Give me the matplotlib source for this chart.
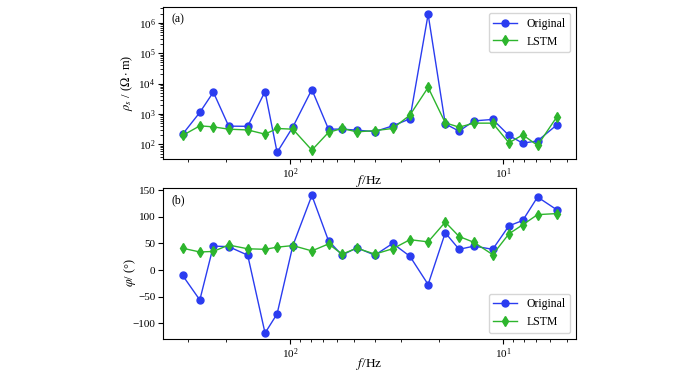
import matplotlib
matplotlib.use('Agg')
import matplotlib.pyplot as plt

plt.rcParams['font.family'] = ['Liberation Serif', 'DejaVu Serif']
plt.rcParams['mathtext.fontset'] = 'stix'
plt.rcParams['font.size'] = 8.5

# frequencies (Hz)
freq = [319, 265, 229, 194, 158, 131, 115, 97, 79, 66, 57, 48.6,
        40, 33, 27.4, 22.5, 18.7, 16.1, 13.7, 11.2, 9.4, 8.1, 6.9, 5.6]

# apparent resistivity (Ohm m)
rho_orig = [218, 1130, 5250, 400, 395, 5500, 55, 375, 6400, 318, 320, 295,
            265, 409, 695, 1.9e6, 476, 274, 597, 664, 198, 110, 131, 441]
rho_lstm = [198, 409, 379, 318, 300, 218, 335, 318, 65, 250, 335, 260,
            285, 335, 920, 7500, 514, 371, 502, 502, 113, 207, 93, 809]

# phase (degrees)
phi_orig = [-10, -56, 45, 44, 28, -118, -82, 46, 140, 55, 28, 42,
            28, 50, 26, -27, 70, 39, 45, 39, 83, 93, 137, 113]
phi_lstm = [41, 34, 35, 47, 40, 39, 43, 46, 36, 49, 30, 41,
            30, 40, 57, 53, 90, 63, 52, 29, 68, 85, 104, 106]

blue = '#2a3cf0'
green = '#2db52d'

fig = plt.figure(figsize=(7, 3.7), dpi=100)
ax1 = fig.add_axes([0.233, 0.570, 0.590, 0.411])
ax2 = fig.add_axes([0.233, 0.084, 0.590, 0.408])

for ax in (ax1, ax2):
    ax.tick_params(labelsize=8, length=3.5, pad=2)
    ax.tick_params(which='minor', length=2)

# (a) resistivity
ax1.plot(freq, rho_orig, '-o', color=blue, lw=1, ms=5, label='Original')
ax1.plot(freq, rho_lstm, '-d', color=green, lw=1, ms=5, label='LSTM')
ax1.set_xscale('log')
ax1.set_yscale('log')
ax1.set_xlim(394, 4.55)
ax1.set_ylim(33, 3.3e6)
ax1.set_xlabel(r'$f$/Hz', fontsize=9.5)
ax1.xaxis.set_label_coords(0.5, -0.09)
ax1.set_ylabel(r'$\rho_s$ / ($\Omega\cdot$m)', fontsize=9)
ax1.yaxis.set_label_coords(-0.068, 0.5)
ax1.text(0.02, 0.96, '(a)', transform=ax1.transAxes, va='top', ha='left')
ax1.legend(loc='upper right', fontsize=8.5)

# (b) phase
ax2.plot(freq, phi_orig, '-o', color=blue, lw=1, ms=5, label='Original')
ax2.plot(freq, phi_lstm, '-d', color=green, lw=1, ms=5, label='LSTM')
ax2.set_xscale('log')
ax2.set_xlim(394, 4.55)
ax2.set_ylim(-129, 154)
ax2.set_yticks([-100, -50, 0, 50, 100, 150])
ax2.set_xlabel(r'$f$/Hz', fontsize=9.5)
ax2.xaxis.set_label_coords(0.5, -0.11)
ax2.set_ylabel(r'$\varphi$/ (°)', fontsize=9)
ax2.yaxis.set_label_coords(-0.06, 0.44)
ax2.text(0.02, 0.96, '(b)', transform=ax2.transAxes, va='top', ha='left')
ax2.legend(loc='lower right', fontsize=8.5)

fig.savefig('out.png', dpi=100, facecolor='white')
